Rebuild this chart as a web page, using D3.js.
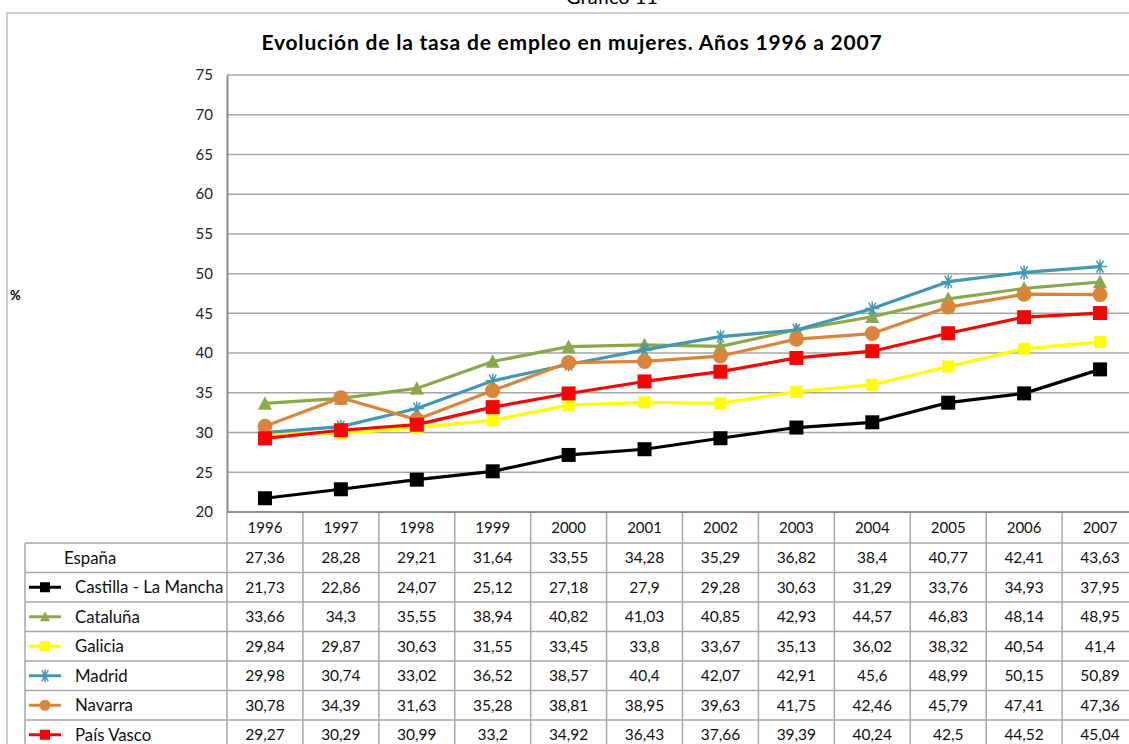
<!DOCTYPE html>
<html><head><meta charset="utf-8">
<script src="https://cdn.jsdelivr.net/npm/d3@7"></script>
<style>
body{margin:0;background:#fff;}
svg{display:block;font-family:Lato, "Open Sans", sans-serif;}
</style></head>
<body><svg id="c" width="1129" height="744"></svg>
<script>
const years = ["1996","1997","1998","1999","2000","2001","2002","2003","2004","2005","2006","2007"];
const espana = [27.36,28.28,29.21,31.64,33.55,34.28,35.29,36.82,38.4,40.77,42.41,43.63];
const castilla = [21.73,22.86,24.07,25.12,27.18,27.9,29.28,30.63,31.29,33.76,34.93,37.95];
const cataluna = [33.66,34.3,35.55,38.94,40.82,41.03,40.85,42.93,44.57,46.83,48.14,48.95];
const galicia = [29.84,29.87,30.63,31.55,33.45,33.8,33.67,35.13,36.02,38.32,40.54,41.4];
const madrid = [29.98,30.74,33.02,36.52,38.57,40.4,42.07,42.91,45.6,48.99,50.15,50.89];
const navarra = [30.78,34.39,31.63,35.28,38.81,38.95,39.63,41.75,42.46,45.79,47.41,47.36];
const paisVasco = [29.27,30.29,30.99,33.2,34.92,36.43,37.66,39.39,40.24,42.5,44.52,45.04];
const yTicks = [20,25,30,35,40,45,50,55,60,65,70,75];

const rows = [
  {name:"España", values:espana, color:null, marker:null},
  {name:"Castilla - La Mancha", values:castilla, color:"#000000", marker:"square"},
  {name:"Cataluña", values:cataluna, color:"#8CA84C", marker:"triangle"},
  {name:"Galicia", values:galicia, color:"#FFFF00", marker:"square"},
  {name:"Madrid", values:madrid, color:"#4298B0", marker:"star"},
  {name:"Navarra", values:navarra, color:"#D9853C", marker:"circle"},
  {name:"País Vasco", values:paisVasco, color:"#FF0000", marker:"square"}
];
const fmt = v => String(v).replace(".", ",");

const svg = d3.select("#c");
const x = d3.scaleBand().domain(years).range([227, 1138]);
const y = d3.scaleLinear().domain([20,75]).range([512, 75]);
const grid = "#a6a6a6";

svg.append("rect").attr("x",7).attr("y",13).attr("width",1140).attr("height",760)
  .attr("fill","none").attr("stroke","#bfbfbf").attr("stroke-width",1.5);
svg.append("text").attr("x",612).attr("y",4).attr("text-anchor","middle")
  .attr("font-size",20).attr("fill","#000").text("Gráfico 11");

svg.append("text").attr("x",572).attr("y",50).attr("text-anchor","middle")
  .attr("font-size",21).attr("font-weight","bold").attr("letter-spacing",0.8).attr("fill","#000")
  .text("Evolución de la tasa de empleo en mujeres. Años 1996 a 2007");

svg.append("text").attr("x",10).attr("y",300).attr("font-size",13).attr("font-weight","bold").text("%");

svg.append("g").selectAll("line").data(yTicks.filter(t=>t>20)).join("line")
  .attr("x1",x.range()[0]).attr("x2",x.range()[1])
  .attr("y1",d=>y(d)).attr("y2",d=>y(d)).attr("stroke",grid).attr("stroke-width",1.5);

const yAxis = d3.axisLeft(y).tickValues(yTicks).tickSize(0).tickPadding(14).tickFormat(d=>d);
const ga = svg.append("g").attr("transform",`translate(${x.range()[0]},0)`).call(yAxis);
ga.select(".domain").attr("stroke","#8c8c8c").attr("stroke-width",2);
ga.selectAll("text").attr("font-size",15).attr("font-family","Lato, sans-serif").attr("fill","#222");

const rowH = 29.5, headTop = 512, headH = 31;
const tableLeft = 25;
const tg = svg.append("g");
tg.selectAll("text.yr").data(years).join("text").attr("class","yr")
  .attr("x",d=>x(d)+x.bandwidth()/2).attr("y",headTop+headH/2+5.5)
  .attr("text-anchor","middle").attr("font-size",15).attr("fill","#111").text(d=>d);
const bounds = years.map(d=>x(d)).concat([x.range()[1]]);
tg.selectAll("line.v").data(bounds).join("line").attr("class","v")
  .attr("x1",d=>d).attr("x2",d=>d).attr("y1",headTop).attr("y2",760)
  .attr("stroke",grid).attr("stroke-width",1.5);
tg.append("line").attr("x1",tableLeft).attr("x2",tableLeft).attr("y1",headTop+headH).attr("y2",760)
  .attr("stroke",grid).attr("stroke-width",1.5);
const hl = d3.range(rows.length+1).map(i=>headTop+headH+i*rowH);
tg.selectAll("line.h").data(hl).join("line").attr("class","h")
  .attr("x1",tableLeft).attr("x2",x.range()[1]).attr("y1",d=>d).attr("y2",d=>d)
  .attr("stroke",grid).attr("stroke-width",1.5);

svg.append("line").attr("x1",x.range()[0]).attr("x2",x.range()[1]).attr("y1",512).attr("y2",512)
  .attr("stroke","#8c8c8c").attr("stroke-width",2);

function drawMarker(g, type, color, cx, cy, s){
  if(type==="square"){
    g.append("rect").attr("x",cx-s/2).attr("y",cy-s/2).attr("width",s).attr("height",s).attr("fill",color);
  } else if(type==="circle"){
    g.append("circle").attr("cx",cx).attr("cy",cy).attr("r",s/2).attr("fill",color);
  } else if(type==="triangle"){
    const h=s*0.9;
    g.append("path").attr("d",`M${cx},${cy-h/2-1}L${cx+s/2},${cy+h/2}L${cx-s/2},${cy+h/2}Z`).attr("fill",color);
  } else if(type==="star"){
    const r=s/2;
    let d="";
    [0,60,120].forEach(a=>{const t=a*Math.PI/180;d+=`M${cx-r*Math.cos(t)},${cy-r*Math.sin(t)}L${cx+r*Math.cos(t)},${cy+r*Math.sin(t)}`;});
    d+=`M${cx},${cy-r}L${cx},${cy+r}`;
    g.append("path").attr("d",d).attr("stroke",color).attr("stroke-width",1.5).attr("fill","none");
  }
}

rows.forEach((r,i)=>{
  const top = headTop+headH+i*rowH, cy = top+rowH/2;
  if(r.color){
    svg.append("line").attr("x1",29).attr("x2",61).attr("y1",cy).attr("y2",cy)
      .attr("stroke",r.color).attr("stroke-width",3);
    drawMarker(svg, r.marker, r.color, 45, cy, r.marker==="circle"?11:(r.marker==="star"?13:10));
    svg.append("text").attr("x",75).attr("y",cy+6).attr("font-size",16.8).attr("fill","#111").text(r.name);
  } else {
    svg.append("text").attr("x",64).attr("y",cy+6).attr("font-size",16.8).attr("fill","#111").text(r.name);
  }
  svg.append("g").selectAll("text").data(r.values).join("text")
    .attr("x",(d,j)=>x(years[j])+x.bandwidth()/2).attr("y",cy+5.5)
    .attr("text-anchor","middle").attr("font-size",15.5).attr("fill","#111").text(d=>fmt(d));
});

const line = d3.line().x((d,j)=>x(years[j])+x.bandwidth()/2).y(d=>y(d));
rows.filter(r=>r.color).forEach(r=>{
  const g = svg.append("g");
  g.append("path").attr("d",line(r.values)).attr("fill","none").attr("stroke",r.color)
    .attr("stroke-width",3.2).attr("stroke-linejoin","round");
  const s = r.marker==="circle"?15:(r.marker==="star"?14:(r.marker==="triangle"?14:(r.color==="#FFFF00"?12:14)));
  r.values.forEach((v,j)=>drawMarker(g, r.marker, r.color, x(years[j])+x.bandwidth()/2, y(v), s));
});
</script></body></html>
